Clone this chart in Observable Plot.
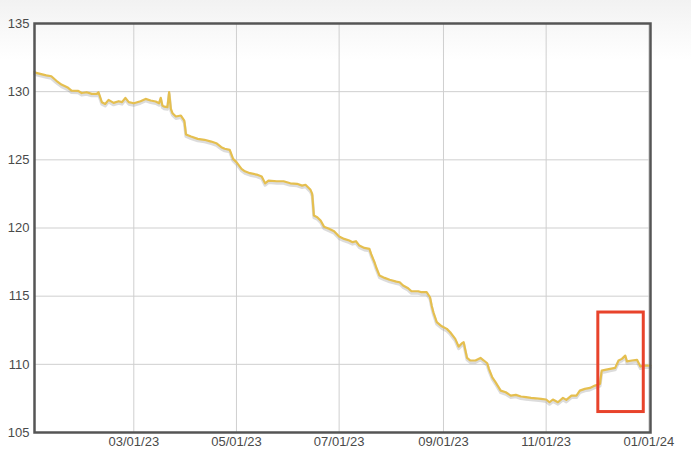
<!DOCTYPE html>
<html>
<head>
<meta charset="utf-8">
<script src="https://cdn.jsdelivr.net/npm/d3@7"></script>
<script src="https://cdn.jsdelivr.net/npm/@observablehq/plot@0.6"></script>
<style>
  html, body { margin: 0; padding: 0; }
  body { width: 691px; height: 467px; background: linear-gradient(#f2f2f2 0px, #f7f7f7 22px, #ffffff 60px); }
  #chart svg { display: block; }
</style>
</head>
<body>
<div id="chart"></div>
<script>
const dates = [
  "2023-01-01","2023-01-02","2023-01-08","2023-01-11","2023-01-14","2023-01-17","2023-01-21","2023-01-23","2023-01-27","2023-01-29",
  "2023-02-01","2023-02-04","2023-02-07","2023-02-08","2023-02-10","2023-02-12","2023-02-14","2023-02-17","2023-02-20","2023-02-22",
  "2023-02-24","2023-02-26","2023-03-01","2023-03-05","2023-03-08","2023-03-11","2023-03-14","2023-03-16","2023-03-17","2023-03-18",
  "2023-03-19","2023-03-21","2023-03-22","2023-03-23","2023-03-24","2023-03-26","2023-03-29","2023-03-31","2023-04-01","2023-04-04",
  "2023-04-08","2023-04-12","2023-04-16","2023-04-19","2023-04-22","2023-04-24","2023-04-27","2023-04-29","2023-05-01","2023-05-04",
  "2023-05-06","2023-05-09","2023-05-13","2023-05-16","2023-05-18","2023-05-20","2023-05-25","2023-05-29","2023-06-02","2023-06-06",
  "2023-06-09","2023-06-11","2023-06-14","2023-06-15","2023-06-16","2023-06-18","2023-06-20","2023-06-22","2023-06-25","2023-06-28",
  "2023-07-01","2023-07-04","2023-07-07","2023-07-09","2023-07-11","2023-07-13","2023-07-16","2023-07-19","2023-07-20","2023-07-22",
  "2023-07-23","2023-07-25","2023-07-28","2023-07-31","2023-08-04","2023-08-06","2023-08-08","2023-08-11","2023-08-13","2023-08-17",
  "2023-08-19","2023-08-22","2023-08-24","2023-08-25","2023-08-26","2023-08-28","2023-08-31","2023-09-03","2023-09-05","2023-09-08",
  "2023-09-10","2023-09-12","2023-09-13","2023-09-15","2023-09-17","2023-09-20","2023-09-23","2023-09-25","2023-09-27","2023-09-28",
  "2023-09-30","2023-10-02","2023-10-05","2023-10-08","2023-10-11","2023-10-14","2023-10-17","2023-10-20","2023-10-23","2023-10-26",
  "2023-10-29","2023-11-01","2023-11-03","2023-11-05","2023-11-08","2023-11-11","2023-11-13","2023-11-16","2023-11-19","2023-11-21",
  "2023-11-24","2023-11-27","2023-11-30","2023-12-03","2023-12-04","2023-12-06","2023-12-09","2023-12-12","2023-12-14","2023-12-16",
  "2023-12-18","2023-12-19","2023-12-22","2023-12-25","2023-12-27","2023-12-29","2024-01-01","2024-01-02"
];
const values = [
  131.45,131.38,131.2,131.13,130.8,130.52,130.28,130.08,130.06,129.9,
  129.96,129.84,129.84,129.96,129.23,129.1,129.4,129.18,129.3,129.23,
  129.55,129.23,129.15,129.3,129.47,129.35,129.28,129.15,129.55,128.98,
  128.9,128.86,129.96,128.74,128.42,128.18,128.25,127.88,126.86,126.71,
  126.54,126.47,126.34,126.22,125.93,125.81,125.73,125.07,124.83,124.34,
  124.16,124.02,123.92,123.77,123.28,123.48,123.43,123.43,123.28,123.24,
  123.11,123.17,122.8,122.5,120.91,120.79,120.55,120.1,119.94,119.76,
  119.37,119.2,119.08,118.96,119.03,118.71,118.54,118.47,118.1,117.49,
  117.12,116.51,116.34,116.2,116.07,116.02,115.78,115.58,115.36,115.36,
  115.29,115.29,114.92,114.3,113.82,113.09,112.79,112.6,112.35,111.87,
  111.3,111.55,111.62,110.47,110.28,110.28,110.47,110.28,110.08,109.67,
  109.05,108.68,108.07,107.95,107.71,107.76,107.64,107.59,107.54,107.51,
  107.47,107.42,107.22,107.42,107.22,107.54,107.39,107.71,107.71,108.07,
  108.2,108.27,108.44,108.56,109.54,109.59,109.67,109.74,110.28,110.4,
  110.64,110.22,110.28,110.33,109.84,109.91,109.91,109.9
];
const xTicks = ["2023-03-01","2023-05-01","2023-07-01","2023-09-01","2023-11-01","2024-01-01"];
const yTicks = [105, 110, 115, 120, 125, 130, 135];
const xDomain = ["2023-01-01", "2024-01-02"];
const yDomain = [105, 135];
const boxStart = ["2023-12-02"];
const boxEnd = ["2023-12-29"];
const boxLow = [106.5];
const boxHigh = [113.8];

const parse = d3.utcParse("%Y-%m-%d");
const series = dates.map((d, i) => ({date: parse(d), value: values[i]}));
const boxes = boxStart.map((s, i) => ({x1: parse(s), x2: parse(boxEnd[i]), y1: boxLow[i], y2: boxHigh[i]}));
const fmt = d3.utcFormat("%m/%d/%y");

const plot = Plot.plot({
  width: 691,
  height: 467,
  marginLeft: 34,
  marginRight: 41,
  marginTop: 23,
  marginBottom: 35,
  style: {background: "transparent", fontFamily: "'Liberation Sans', Arial, sans-serif", fontSize: "13px", color: "#4a4a4a"},
  x: {type: "utc", domain: xDomain.map(parse)},
  y: {domain: yDomain},
  marks: [
    Plot.gridX(xTicks.map(parse), {stroke: "#cfcfcf", strokeOpacity: 1, strokeWidth: 1}),
    Plot.gridY(yTicks, {stroke: "#cfcfcf", strokeOpacity: 1, strokeWidth: 1}),
    Plot.axisX(xTicks.map(parse), {tickSize: 0, tickPadding: 4, tickFormat: fmt, label: null, fill: "#4a4a4a"}),
    Plot.axisY(yTicks, {tickSize: 0, tickPadding: 5, label: null, fill: "#4a4a4a"}),
    Plot.line(series, {x: "date", y: "value", stroke: "#9a9a9a", strokeOpacity: 0.35, strokeWidth: 3, dy: 2}),
    Plot.line(series, {x: "date", y: "value", stroke: "#e5bf4f", strokeWidth: 2.2}),
    Plot.rect(boxes, {x1: "x1", x2: "x2", y1: "y1", y2: "y2", fill: "none", stroke: "#e8432b", strokeWidth: 3}),
    Plot.frame({stroke: "#555555", strokeWidth: 2.5})
  ]
});
document.getElementById("chart").appendChild(plot);
</script>
</body>
</html>
